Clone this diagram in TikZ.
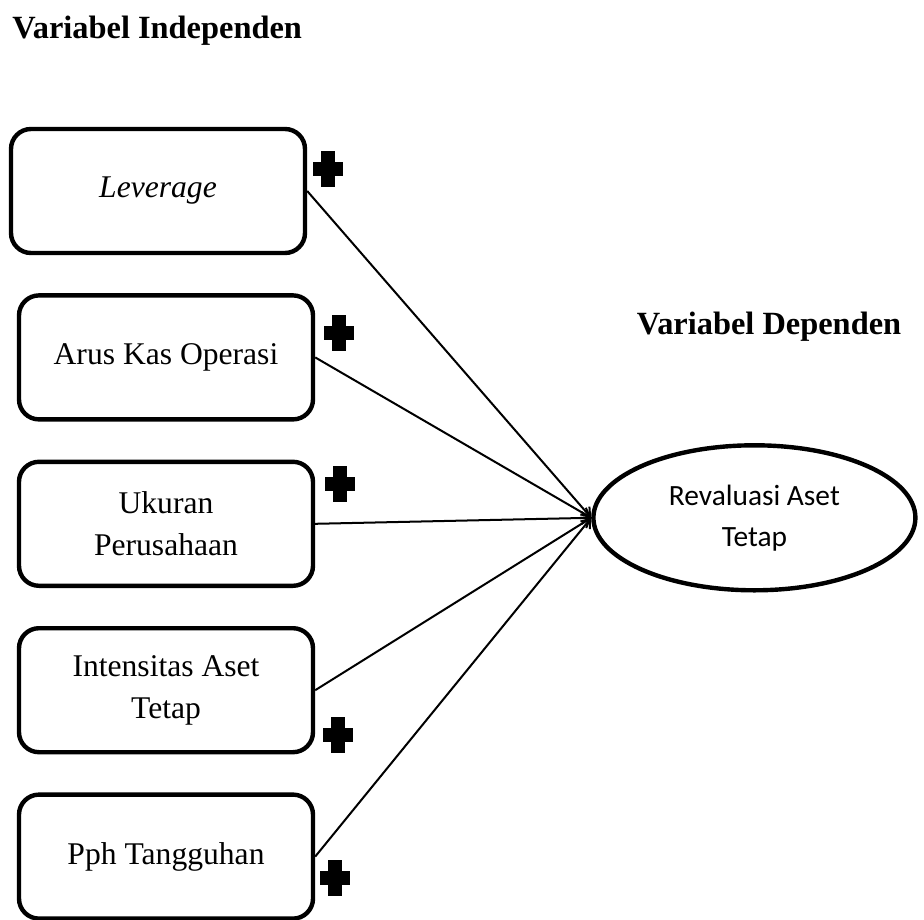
\documentclass[tikz,border=0pt]{standalone}
\usepackage{fontspec}
\setmainfont{Liberation Serif}
\newfontfamily\calibrifont{Carlito}
\usepackage{tikz}
\usetikzlibrary{positioning,arrows.meta,shapes.geometric}

\tikzset{
plussign/.pic={
    \fill (-7.5pt,-3.5pt) rectangle (7.5pt,3.5pt);
    \fill (-3.5pt,-9pt) rectangle (3.5pt,9pt);
}
}

\begin{document}
\begin{tikzpicture}[x=0.5pt, y=-0.5pt,
varbox/.style={rectangle, rounded corners=10pt, draw=black, line width=2.2pt, minimum width=147pt, minimum height=62pt, align=center, font=\fontsize{15.8}{21}\selectfont},
depnode/.style={ellipse, draw=black, line width=2.2pt, minimum width=161pt, minimum height=72.5pt, inner sep=0pt, align=center, font=\calibrifont\fontsize{14.7}{20.5}\selectfont},
title/.style={font=\bfseries\fontsize{16.2}{20}\selectfont, inner sep=0pt}
]
    \useasboundingbox (0,0) rectangle (924,919);

    %Titles
    \node[title, anchor=west]
        (tind)  at (12,31)       {Variabel Independen};
    \node[title]
        (tdep)  at (769,327)     {Variabel Dependen};

    %Nodes
    \node[varbox]
        (lev)   at (158,191)     {\textit{Leverage}};
    \node[varbox]
        (akas)  [below=19pt of lev, xshift=4pt] {Arus Kas Operasi};
    \node[varbox]
        (uku)   [below=19pt of akas]  {Ukuran\\Perusahaan};
    \node[varbox]
        (ints)  [below=19pt of uku]   {Intensitas Aset\\Tetap};
    \node[varbox]
        (pph)   [below=19pt of ints]  {Pph Tangguhan};
    \node[depnode]
        (rev)   [right=138pt of uku, yshift=3pt] {Revaluasi Aset\\Tetap};

    %Lines
    \draw[-{Straight Barb[length=4pt,width=6pt]}, line width=1pt]
        (lev.east) -- (rev.west);
    \draw[-{Straight Barb[length=4pt,width=6pt]}, line width=1pt]
        (akas.east) -- (rev.west);
    \draw[-{Straight Barb[length=4pt,width=6pt]}, line width=1pt]
        (uku.east) -- (rev.west);
    \draw[-{Straight Barb[length=4pt,width=6pt]}, line width=1pt]
        (ints.east) -- (rev.west);
    \draw[-{Straight Barb[length=4pt,width=6pt]}, line width=1pt]
        (pph.east) -- (rev.west);

    %Signs
    \pic at (328,169) {plussign};
    \pic at (339,333) {plussign};
    \pic at (340,484) {plussign};
    \pic at (338,735) {plussign};
    \pic at (335,878) {plussign};
\end{tikzpicture}
\end{document}
